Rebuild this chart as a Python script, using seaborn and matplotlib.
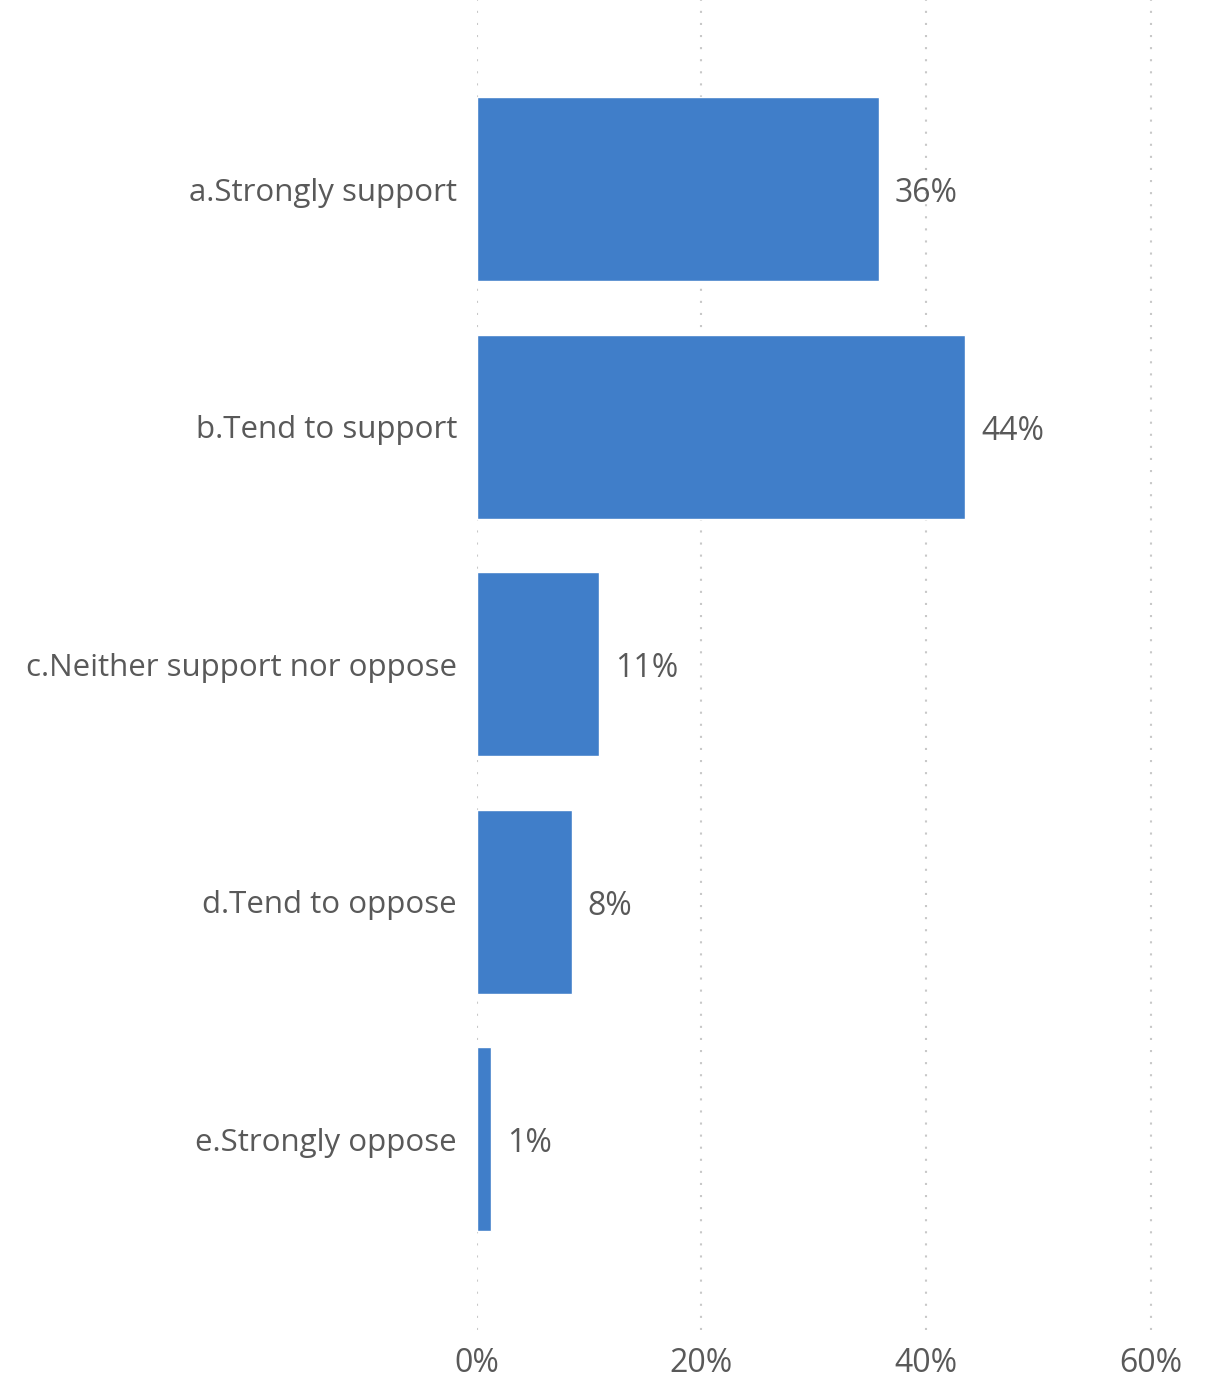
import matplotlib
matplotlib.use("Agg")
import matplotlib.pyplot as plt
import seaborn as sns
import pandas as pd

categories = ["a.Strongly support", "b.Tend to support", "c.Neither support nor oppose",
              "d.Tend to oppose", "e.Strongly oppose"]
values = [35.8, 43.5, 10.9, 8.5, 1.3]
labels = ["36%", "44%", "11%", "8%", "1%"]
xticks = [0, 20, 40, 60]
xtick_labels = ["0%", "20%", "40%", "60%"]

sns.set_style("white")
plt.rcParams['font.family'] = ['Open Sans', 'DejaVu Sans']
text_color = "#595959"

df = pd.DataFrame({"cat": categories, "val": values})
fig = plt.figure(figsize=(12.17, 13.78), dpi=100)
ax = fig.add_axes([476.5/1217, 48/1378, (1173-476.5)/1217, 1330/1378])

for x in xticks:
    ax.axvline(x, color="#c8c8c8", lw=1.5, linestyle=(0, (1, 4.8)), zorder=0)

sns.barplot(data=df, x="val", y="cat", color="#407EC9", width=0.775,
            saturation=1, ax=ax, zorder=2)

for i, (v, lab) in enumerate(zip(values, labels)):
    ax.text(v + 1.4, i + 0.02, lab, va="center", ha="left", fontsize=23, color=text_color)

ax.set_xlim(0, 62)
ax.set_ylim(4.804, -0.796)
ax.set_xticks(xticks)
ax.set_xticklabels(xtick_labels, fontsize=23, color=text_color)
ax.tick_params(axis="y", labelsize=22.5, labelcolor=text_color, length=0, pad=14)
ax.tick_params(axis="x", length=0, pad=12)
ax.set_xlabel("")
ax.set_ylabel("")
for s in ax.spines.values():
    s.set_visible(False)

fig.savefig("out.png", dpi=100)
